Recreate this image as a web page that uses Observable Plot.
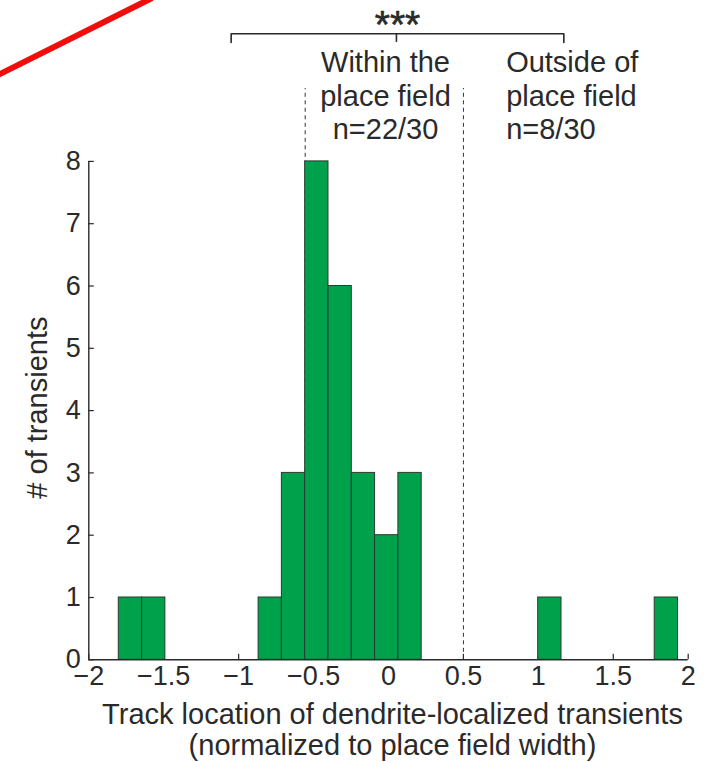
<!DOCTYPE html>
<html>
<head>
<meta charset="utf-8">
<script src="https://cdn.jsdelivr.net/npm/d3@7"></script>
<script src="https://cdn.jsdelivr.net/npm/@observablehq/plot@0.6"></script>
<style>
  html, body { margin: 0; padding: 0; background: #fff; }
  #wrap { position: relative; width: 708px; height: 762px; overflow: hidden; }
  #overlay { position: absolute; left: 0; top: 0; pointer-events: none; }
</style>
</head>
<body>
<div id="wrap"></div>
<script>
// ---- data ----
const binEdges = [-1.8, -1.6445, -1.489, -1.3335, -1.178, -1.0225, -0.867, -0.7115, -0.556, -0.4005,
                  -0.245, -0.0895, 0.066, 0.2215, 0.377, 0.5325, 0.688, 0.8435, 0.999, 1.1545,
                  1.31, 1.4655, 1.621, 1.7765, 1.932];
const counts = [1, 1, 0, 0, 0, 0, 1, 3, 8, 6, 3, 2, 3, 0, 0, 0, 0, 0, 1, 0, 0, 0, 0, 1];
const xTicks = [-2, -1.5, -1, -0.5, 0, 0.5, 1, 1.5, 2];
const xTickLabels = ["\u22122", "\u22121.5", "\u22121", "\u22120.5", "0", "0.5", "1", "1.5", "2"];
const yTicks = [0, 1, 2, 3, 4, 5, 6, 7, 8];
const yTickLabels = ["0", "1", "2", "3", "4", "5", "6", "7", "8"];
const placeFieldBounds = [-0.556, 0.5];
const bracketX = [-1.05, 0.053, 1.17];
const significance = "***";
const withinLabel = ["Within the", "place field", "n=22/30"];
const outsideLabel = ["Outside of", "place field", "n=8/30"];
const xLabel = ["Track location of dendrite-localized transients", "(normalized to place field width)"];
const yLabel = "# of transients";

// ---- build ----
const bins = counts.map((c, i) => ({x1: binEdges[i], x2: binEdges[i + 1], count: c})).filter(d => d.count > 0);
const bracketPath = [
  {x: bracketX[0], y: 9.91}, {x: bracketX[0], y: 10.05},
  {x: bracketX[2], y: 10.05}, {x: bracketX[2], y: 9.91}
];
const ink = "#2a2a2a";
const font = "'Liberation Sans', Arial, Helvetica, sans-serif";
const W = 708, H = 762, mL = 88.3, mR = 20.3, mT = 160.9, mB = 102.7;
const frameW = W - mL - mR, frameH = H - mT - mB, tickLen = 5.5;

const plot = Plot.plot({
  width: W,
  height: H,
  marginLeft: mL,
  marginRight: mR,
  marginTop: mT,
  marginBottom: mB,
  x: {domain: [-2, 2]},
  y: {domain: [0, 8]},
  style: {fontFamily: font, color: ink, background: "white", overflow: "visible"},
  marks: [
    Plot.axisX(xTicks, {tickSize: 0, tickPadding: 6.5, fontSize: 27, label: null,
      tickFormat: d => xTickLabels[xTicks.indexOf(d)]}),
    Plot.axisY(yTicks, {tickSize: 0, tickPadding: 8, fontSize: 27, label: null,
      tickFormat: d => yTickLabels[yTicks.indexOf(d)]}),
    Plot.tickX(xTicks, {insetTop: frameH - tickLen, stroke: ink, strokeWidth: 1.2}),
    Plot.tickY(yTicks, {insetRight: frameW - tickLen, stroke: ink, strokeWidth: 1.2}),
    Plot.ruleX(placeFieldBounds, {y1: 0, y2: 9.17, stroke: "#333", strokeWidth: 1, strokeDasharray: "4,3.5"}),
    Plot.rectY(bins, {x1: "x1", x2: "x2", y: "count", fill: "#00a14b", stroke: "#2c3a31", strokeWidth: 1}),
    Plot.ruleY([0], {x1: -2, x2: 2, stroke: ink, strokeWidth: 1.4}),
    Plot.ruleX([-2], {y1: 0, y2: 8, stroke: ink, strokeWidth: 1.4}),
    Plot.line(bracketPath, {x: "x", y: "y", stroke: ink, strokeWidth: 1.6}),
    Plot.ruleX([bracketX[1]], {y1: 9.91, y2: 10.05, stroke: ink, strokeWidth: 1.6}),
    Plot.text([significance], {x: 0.06, y: 10.43, lineAnchor: "top", textAnchor: "middle", fontSize: 39,
      stroke: ink, strokeWidth: 0.6, fill: ink}),
    Plot.text([withinLabel.join("\n")], {x: -0.02, y: 9.81, lineAnchor: "top", textAnchor: "middle",
      fontSize: 29, lineHeight: 1.15, fill: ink}),
    Plot.text([outsideLabel.join("\n")], {x: 0.785, y: 9.81, lineAnchor: "top", textAnchor: "start",
      fontSize: 29, lineHeight: 1.15, fill: ink}),
    Plot.text([yLabel], {frameAnchor: "left", dx: -51, dy: -3, rotate: -90, textAnchor: "middle",
      lineAnchor: "middle", fontSize: 29, fill: ink}),
    Plot.text([xLabel.join("\n")], {frameAnchor: "bottom", dx: 4, dy: 42.5, lineAnchor: "top",
      textAnchor: "middle", fontSize: 29, lineHeight: 1.06, fill: ink})
  ]
});
const wrap = document.getElementById("wrap");
wrap.appendChild(plot);

// red diagonal stroke present in the top-left corner of the reference image
const ns = "http://www.w3.org/2000/svg";
const ov = document.createElementNS(ns, "svg");
ov.setAttribute("id", "overlay");
ov.setAttribute("width", W);
ov.setAttribute("height", H);
const ln = document.createElementNS(ns, "line");
ln.setAttribute("x1", -6); ln.setAttribute("y1", 77);
ln.setAttribute("x2", 152); ln.setAttribute("y2", -2);
ln.setAttribute("stroke", "#f20d0d");
ln.setAttribute("stroke-width", 6);
ov.appendChild(ln);
wrap.appendChild(ov);
</script>
</body>
</html>
